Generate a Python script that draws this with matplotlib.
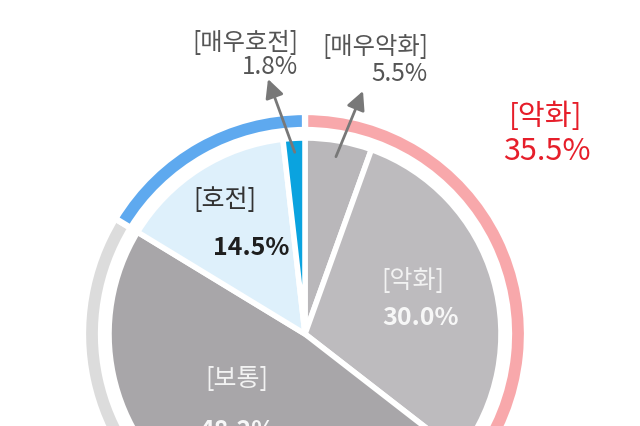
import numpy as np
import matplotlib
matplotlib.use("Agg")
import matplotlib.pyplot as plt

plt.rcParams['font.family'] = ['Noto Sans CJK KR', 'DejaVu Sans']

# data
inner_labels = ['매우악화', '악화', '보통', '호전', '매우호전']
inner_values = [5.5, 30.0, 48.2, 14.5, 1.8]
inner_colors = ['#b9b7ba', '#bdbbbe', '#a8a6a9', '#def0fb', '#0aa3df']

outer_labels = ['악화', '보통', '호전']
outer_values = [35.5, 48.2, 16.3]
outer_colors = ['#f8a8ab', '#dcdcdc', '#5ea9ef']

W, H = 640, 427
fig = plt.figure(figsize=(6.4, 4.27), dpi=100)
ax = fig.add_axes([0, 0, 1, 1])

cx, cy = 305, H - 335
R_in = 196
R_out = 222
ring_w = 18

ax.pie(inner_values, radius=R_in, center=(cx, cy), startangle=90, counterclock=False,
       colors=inner_colors, wedgeprops=dict(edgecolor='white', linewidth=4))
ax.pie(outer_values, radius=R_out, center=(cx, cy), startangle=90, counterclock=False,
       colors=outer_colors, wedgeprops=dict(width=ring_w, edgecolor='white', linewidth=4.5))

ax.set_xlim(0, W)
ax.set_ylim(0, H)
ax.set_aspect('equal')
ax.axis('off')

def img(x, y):
    return x, H - y

# mid angles for arrows
cum = np.cumsum([0] + inner_values)
def mid_point(i, r):
    ang = np.deg2rad((cum[i] + inner_values[i] / 2) / 100 * 360)
    return cx + r * np.sin(ang), cy + r * np.cos(ang)

arrow_kw = dict(arrowstyle='-|>,head_length=0.7,head_width=0.35', color='#787878',
                lw=2, mutation_scale=16, shrinkA=0, shrinkB=0)
ax.annotate('', xy=img(268, 80), xytext=mid_point(4, 182), arrowprops=arrow_kw)
ax.annotate('', xy=img(363, 92), xytext=mid_point(0, 180), arrowprops=arrow_kw)

gray_txt = '#555555'
ax.text(*img(298, 43), '[매우호전]', ha='right', va='center', fontsize=17.5, color=gray_txt)
ax.text(*img(298, 67), '1.8%', ha='right', va='center', fontsize=17.5, color=gray_txt)
ax.text(*img(428, 47), '[매우악화]', ha='right', va='center', fontsize=17.5, color=gray_txt)
ax.text(*img(428, 74), '5.5%', ha='right', va='center', fontsize=17.5, color=gray_txt)

red = '#e61e2a'
ax.text(*img(546, 117), '[악화]', ha='center', va='center', fontsize=21, color=red)
ax.text(*img(547, 152), '35.5%', ha='center', va='center', fontsize=22, color=red)

ax.text(*img(225, 200), '[호전]', ha='center', va='center', fontsize=18, color='#333333')
ax.text(*img(251, 248), '14.5%', ha='center', va='center', fontsize=18,
        color='#1e1e1e', fontweight='bold')

ax.text(*img(413, 281), '[악화]', ha='center', va='center', fontsize=18, color='#f2f2f2')
ax.text(*img(421, 318), '30.0%', ha='center', va='center', fontsize=18,
        color='#f7f7f7', fontweight='bold')

ax.text(*img(237, 379), '[보통]', ha='center', va='center', fontsize=18, color='#f2f2f2')
ax.text(*img(238, 431), '48.2%', ha='center', va='center', fontsize=18,
        color='#f7f7f7', fontweight='bold')

fig.savefig('out.png', dpi=100)
